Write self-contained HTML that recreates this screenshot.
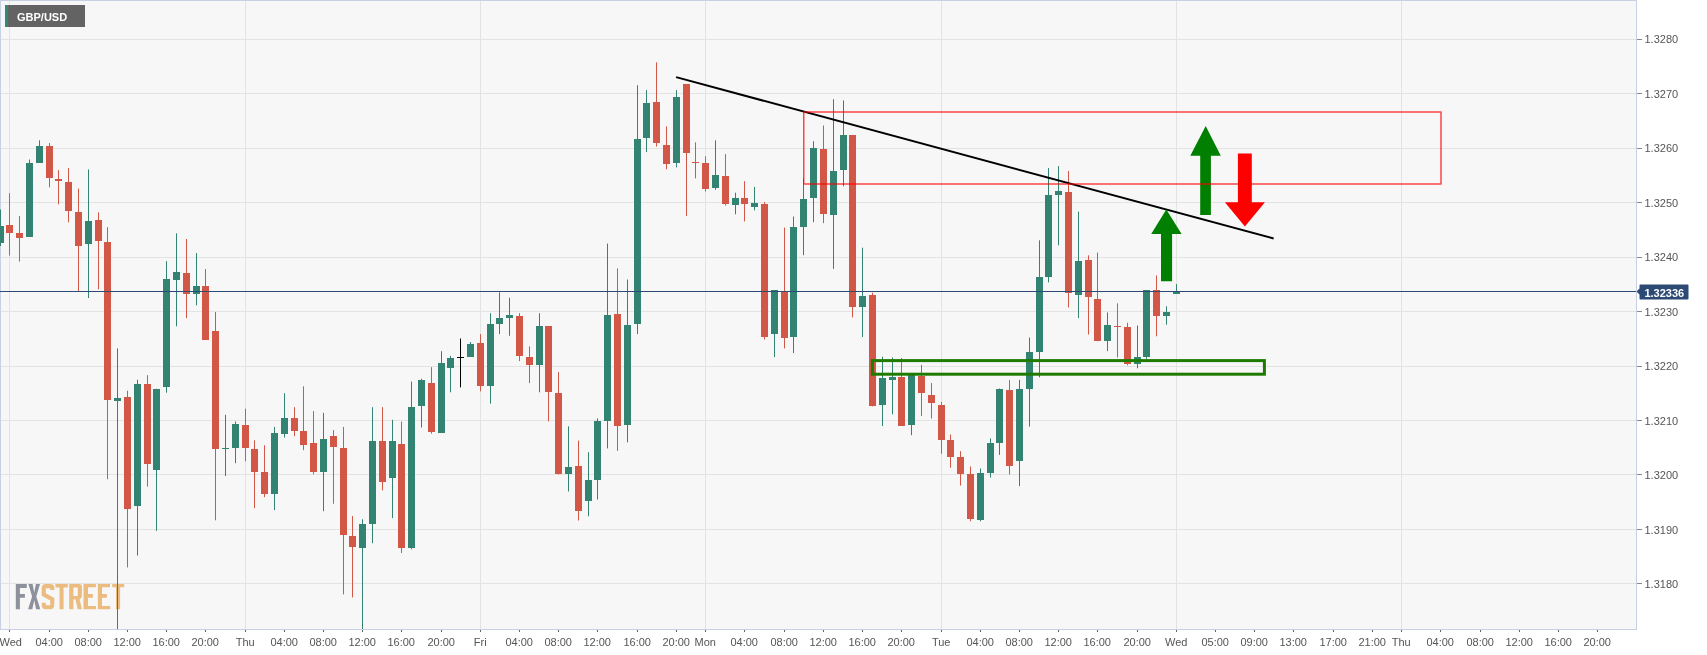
<!DOCTYPE html>
<html><head><meta charset="utf-8"><style>
html,body{margin:0;padding:0;background:#fff;width:1707px;height:655px;overflow:hidden}
svg{display:block;font-family:"Liberation Sans",sans-serif;will-change:transform}
</style></head><body>
<svg width="1707" height="655" viewBox="0 0 1707 655">
<rect x="0" y="0" width="1707" height="655" fill="#ffffff"/>
<rect x="0" y="0" width="1636" height="629" fill="#f7f7f7"/>

<path d="M0 583.5H1636 M0 529.5H1636 M0 474.5H1636 M0 420.5H1636 M0 366.5H1636 M0 311.5H1636 M0 257.5H1636 M0 202.5H1636 M0 148.5H1636 M0 93.5H1636 M0 39.5H1636 M9.5 0V629 M245.5 0V629 M480.5 0V629 M705.5 0V629 M941.5 0V629 M1176.5 0V629 M1401.5 0V629" stroke="#e3e3e3" stroke-width="1" fill="none" shape-rendering="crispEdges"/>
<g fill="#8d919b" shape-rendering="geometricPrecision">
<path d="M15.8 584H26.8V588H19.9V594H24.9V597.8H19.9V609.3H15.8Z"/>
<path d="M28.4 584H32.6L34.2 592.6L35.9 584H40L36.3 596.4L40.3 609.3H36.1L34.2 600.2L32.3 609.3H28.1L32.1 596.4Z"/>
</g>
<g fill="#ecbb80">
<path d="M52.3 590V588.3Q52.3 586.1 50.1 586.1H45.9Q43.75 586.1 43.75 588.3V594.6L52.25 599.3V605.1Q52.25 607.25 50.1 607.25H45.9Q43.75 607.25 43.75 605.1V602.8" fill="none" stroke="#ecbb80" stroke-width="4.1"/>
<path d="M55.4 584H67.8V587.5H63.6V609.3H59.5V587.5H55.4Z"/>
<path d="M69.2 584H79Q81.9 584 81.9 587V596Q81.9 598.6 79.6 599.2L81.9 609.3H77.8L75.4 599.3H73.4V609.3H69.2ZM73.4 587.6V595.9H77.8V587.6Z" fill-rule="evenodd"/>
<path d="M83.5 584H95.9V587.2H88V593.9H92.9V597.8H88V605.9H95.9V609.3H83.5Z"/>
<path d="M97.9 584H110V587.2H102V593.9H106.9V597.8H102V605.9H110.2V609.3H97.9Z"/>
<path d="M112.2 584H124.2V587.2H120.1V609.3H116V587.2H112.2Z"/>
</g>
<path d="M0.5 0V629.5M0 0.5H1636.5M0 629.5H1636.5M1636.5 0V629.5" stroke="#c8d0e4" stroke-width="1" fill="none" shape-rendering="crispEdges"/>
<path d="M0.5 209.5V246.0 M29.5 159.5V237.0 M39.5 140.3V162.7 M88.5 169.4V298.0 M117.5 348.4V629.0 M137.5 379.7V555.5 M156.5 388.8V530.9 M166.5 261.2V392.7 M176.5 233.3V326.3 M196.5 253.0V305.3 M225.5 414.8V476.0 M235.5 421.5V463.2 M274.5 427.0V510.0 M284.5 393.2V437.5 M323.5 412.9V511.2 M362.5 519.3V629.0 M372.5 407.2V543.2 M392.5 419.8V518.1 M411.5 381.6V549.3 M421.5 378.8V427.5 M441.5 351.2V432.9 M450.5 355.8V392.3 M470.5 342.0V356.8 M490.5 313.2V403.6 M499.5 292.3V334.1 M509.5 297.7V335.8 M539.5 313.2V392.3 M568.5 426.3V491.5 M588.5 452.2V516.3 M597.5 418.4V499.5 M607.5 243.6V448.4 M627.5 279.5V442.3 M637.5 85.2V334.1 M646.5 90.1V152.1 M676.5 90.1V167.4 M715.5 140.3V189.8 M735.5 192.7V214.3 M754.5 187.0V210.3 M774.5 290.3V357.0 M793.5 216.5V353.0 M803.5 178.4V255.2 M813.5 141.2V222.2 M833.5 99.2V268.9 M843.5 100.4V186.3 M862.5 247.7V337.0 M882.5 356.7V426.1 M892.5 357.5V414.3 M911.5 374.0V435.2 M980.5 468.4V521.3 M990.5 438.4V477.5 M999.5 388.5V454.9 M1019.5 379.8V486.1 M1029.5 337.5V426.6 M1039.5 240.3V377.3 M1048.5 168.1V282.4 M1058.5 166.1V245.3 M1078.5 211.6V318.1 M1107.5 312.4V351.1 M1137.5 325.5V368.3 M1146.5 290.3V358.7 M1166.5 306.3V324.7 M1176.5 284.1V293.5" stroke="#338372" stroke-width="1" fill="none"/>
<path d="M-3 226h7v17h-7z M26 163h7v74h-7z M36 146h7v17h-7z M85 221h7v23h-7z M114 398h7v3h-7z M134 384h7v122h-7z M153 389h7v81h-7z M163 279h7v108h-7z M173 272h7v8h-7z M193 286h7v8h-7z M222 448h7v1h-7z M232 424h7v24h-7z M271 433h7v61h-7z M281 418h7v16h-7z M320 439h7v33h-7z M359 524h7v24h-7z M369 441h7v83h-7z M389 441h7v37h-7z M408 407h7v141h-7z M418 380h7v26h-7z M438 363h7v70h-7z M447 358h7v10h-7z M467 344h7v13h-7z M487 324h7v62h-7z M496 318h7v6h-7z M506 315h7v3h-7z M536 326h7v39h-7z M565 467h7v7h-7z M585 480h7v21h-7z M594 421h7v59h-7z M604 315h7v106h-7z M624 325h7v100h-7z M634 139h7v185h-7z M643 103h7v35h-7z M673 97h7v66h-7z M712 175h7v13h-7z M732 198h7v7h-7z M751 203h7v4h-7z M771 290h7v44h-7z M790 227h7v110h-7z M800 199h7v28h-7z M810 148h7v50h-7z M830 171h7v44h-7z M840 135h7v35h-7z M859 296h7v11h-7z M879 378h7v27h-7z M889 377h7v3h-7z M908 374h7v51h-7z M977 473h7v47h-7z M987 443h7v30h-7z M996 389h7v54h-7z M1016 389h7v72h-7z M1026 352h7v37h-7z M1036 277h7v75h-7z M1045 195h7v82h-7z M1055 191h7v4h-7z M1075 261h7v34h-7z M1104 325h7v16h-7z M1134 357h7v7h-7z M1143 290h7v67h-7z M1163 312h7v4h-7z M1173 292h7v2h-7z" fill="#338372" shape-rendering="crispEdges"/>
<path d="M9.5 193.2V255.5 M19.5 216.0V261.6 M49.5 143.0V187.3 M58.5 170.1V204.3 M68.5 168.1V222.3 M78.5 188.6V291.8 M98.5 212.4V289.4 M107.5 227.2V479.2 M127.5 390.7V567.4 M147.5 375.2V486.6 M186.5 239.0V318.1 M205.5 269.0V339.5 M215.5 312.0V520.3 M245.5 408.7V461.3 M254.5 440.3V508.2 M264.5 445.3V497.2 M294.5 407.2V436.2 M303.5 386.3V450.2 M313.5 411.1V474.3 M333.5 430.1V503.8 M343.5 426.9V594.4 M352.5 516.1V597.4 M382.5 407.2V490.3 M401.5 421.5V553.0 M431.5 367.2V433.7 M480.5 334.1V391.3 M519.5 313.2V361.1 M529.5 346.4V383.2 M548.5 326.0V421.4 M558.5 372.1V474.4 M578.5 440.6V520.5 M617.5 268.4V450.9 M656.5 62.3V146.5 M666.5 126.3V169.3 M686.5 84.0V216.0 M695.5 142.3V178.4 M705.5 156.3V191.5 M725.5 154.1V205.5 M744.5 181.2V221.4 M764.5 202.1V339.5 M784.5 227.6V348.4 M823.5 125.5V223.2 M852.5 135.4V317.4 M872.5 292.7V406.4 M901.5 358.0V425.9 M921.5 364.8V416.0 M931.5 383.0V418.5 M941.5 402.0V453.7 M950.5 434.5V467.7 M960.5 451.2V485.6 M970.5 466.5V521.3 M1009.5 380.1V474.6 M1068.5 171.0V307.5 M1088.5 255.3V334.6 M1097.5 252.6V341.2 M1117.5 303.3V357.5 M1127.5 322.8V365.3 M1156.5 275.5V336.3" stroke="#d25746" stroke-width="1" fill="none"/>
<path d="M6 225h7v8h-7z M16 233h7v5h-7z M46 146h7v32h-7z M55 179h7v2h-7z M65 182h7v29h-7z M75 212h7v34h-7z M95 220h7v21h-7z M104 242h7v158h-7z M124 397h7v112h-7z M144 384h7v80h-7z M183 273h7v21h-7z M202 286h7v54h-7z M212 331h7v118h-7z M242 425h7v23h-7z M251 449h7v23h-7z M261 472h7v22h-7z M291 418h7v13h-7z M300 431h7v14h-7z M310 443h7v29h-7z M330 436h7v11h-7z M340 448h7v87h-7z M349 536h7v11h-7z M379 441h7v41h-7z M398 444h7v104h-7z M428 383h7v49h-7z M477 343h7v43h-7z M516 316h7v40h-7z M526 357h7v8h-7z M545 326h7v66h-7z M555 393h7v81h-7z M575 466h7v45h-7z M614 314h7v112h-7z M653 102h7v41h-7z M663 145h7v19h-7z M683 84h7v69h-7z M692 162h7v1h-7z M702 163h7v26h-7z M722 176h7v28h-7z M741 198h7v6h-7z M761 204h7v133h-7z M781 292h7v46h-7z M820 149h7v65h-7z M849 135h7v172h-7z M869 295h7v111h-7z M898 377h7v49h-7z M918 376h7v17h-7z M928 395h7v8h-7z M938 405h7v35h-7z M947 440h7v17h-7z M957 457h7v17h-7z M967 474h7v45h-7z M1006 390h7v76h-7z M1065 192h7v101h-7z M1085 260h7v37h-7z M1094 299h7v42h-7z M1114 326h7v1h-7z M1124 327h7v37h-7z M1153 290h7v26h-7z" fill="#d25746" shape-rendering="crispEdges"/>
<path d="M460.5 338.5V387.4" stroke="#000000" stroke-width="1" fill="none"/>
<path d="M457 357h7v1h-7z" fill="#000000" shape-rendering="crispEdges"/>
<path d="M0 291.5H1636" stroke="#2c4a74" stroke-width="1" shape-rendering="crispEdges"/>
<path d="M9.5 630V632 M49.5 630V632 M88.5 630V632 M127.5 630V632 M166.5 630V632 M205.5 630V632 M245.5 630V632 M284.5 630V632 M323.5 630V632 M362.5 630V632 M401.5 630V632 M441.5 630V632 M480.5 630V632 M519.5 630V632 M558.5 630V632 M597.5 630V632 M637.5 630V632 M676.5 630V632 M705.5 630V632 M744.5 630V632 M784.5 630V632 M823.5 630V632 M862.5 630V632 M901.5 630V632 M941.5 630V632 M980.5 630V632 M1019.5 630V632 M1058.5 630V632 M1097.5 630V632 M1137.5 630V632 M1176.5 630V632 M1215.5 630V632 M1254.5 630V632 M1293.5 630V632 M1333.5 630V632 M1372.5 630V632 M1401.5 630V632 M1440.5 630V632 M1480.5 630V632 M1519.5 630V632 M1558.5 630V632 M1597.5 630V632" stroke="#666" stroke-width="1" shape-rendering="crispEdges"/>
<g font-size="11" fill="#555555"><text x="-0.5" y="646">Wed</text><text x="49.2" y="646" text-anchor="middle">04:00</text><text x="88.2" y="646" text-anchor="middle">08:00</text><text x="127.2" y="646" text-anchor="middle">12:00</text><text x="166.2" y="646" text-anchor="middle">16:00</text><text x="205.2" y="646" text-anchor="middle">20:00</text><text x="245.2" y="646" text-anchor="middle">Thu</text><text x="284.2" y="646" text-anchor="middle">04:00</text><text x="323.2" y="646" text-anchor="middle">08:00</text><text x="362.2" y="646" text-anchor="middle">12:00</text><text x="401.2" y="646" text-anchor="middle">16:00</text><text x="441.2" y="646" text-anchor="middle">20:00</text><text x="480.2" y="646" text-anchor="middle">Fri</text><text x="519.2" y="646" text-anchor="middle">04:00</text><text x="558.2" y="646" text-anchor="middle">08:00</text><text x="597.2" y="646" text-anchor="middle">12:00</text><text x="637.2" y="646" text-anchor="middle">16:00</text><text x="676.2" y="646" text-anchor="middle">20:00</text><text x="705.2" y="646" text-anchor="middle">Mon</text><text x="744.2" y="646" text-anchor="middle">04:00</text><text x="784.2" y="646" text-anchor="middle">08:00</text><text x="823.2" y="646" text-anchor="middle">12:00</text><text x="862.2" y="646" text-anchor="middle">16:00</text><text x="901.2" y="646" text-anchor="middle">20:00</text><text x="941.2" y="646" text-anchor="middle">Tue</text><text x="980.2" y="646" text-anchor="middle">04:00</text><text x="1019.2" y="646" text-anchor="middle">08:00</text><text x="1058.2" y="646" text-anchor="middle">12:00</text><text x="1097.2" y="646" text-anchor="middle">16:00</text><text x="1137.2" y="646" text-anchor="middle">20:00</text><text x="1176.2" y="646" text-anchor="middle">Wed</text><text x="1215.2" y="646" text-anchor="middle">05:00</text><text x="1254.2" y="646" text-anchor="middle">09:00</text><text x="1293.2" y="646" text-anchor="middle">13:00</text><text x="1333.2" y="646" text-anchor="middle">17:00</text><text x="1372.2" y="646" text-anchor="middle">21:00</text><text x="1401.2" y="646" text-anchor="middle">Thu</text><text x="1440.2" y="646" text-anchor="middle">04:00</text><text x="1480.2" y="646" text-anchor="middle">08:00</text><text x="1519.2" y="646" text-anchor="middle">12:00</text><text x="1558.2" y="646" text-anchor="middle">16:00</text><text x="1597.2" y="646" text-anchor="middle">20:00</text></g>
<path d="M1637 583.5H1642 M1637 529.5H1642 M1637 474.5H1642 M1637 420.5H1642 M1637 366.5H1642 M1637 311.5H1642 M1637 257.5H1642 M1637 202.5H1642 M1637 148.5H1642 M1637 93.5H1642 M1637 39.5H1642" stroke="#888" stroke-width="1" shape-rendering="crispEdges"/>
<g font-size="11" fill="#555555"><text x="1644.5" y="588.00">1.3180</text><text x="1644.5" y="533.50">1.3190</text><text x="1644.5" y="479.01">1.3200</text><text x="1644.5" y="424.51">1.3210</text><text x="1644.5" y="370.02">1.3220</text><text x="1644.5" y="315.52">1.3230</text><text x="1644.5" y="261.03">1.3240</text><text x="1644.5" y="206.53">1.3250</text><text x="1644.5" y="152.04">1.3260</text><text x="1644.5" y="97.55">1.3270</text><text x="1644.5" y="43.05">1.3280</text></g>
<path d="M1636.5 291.5L1639.5 288.5V285.5Q1639.5 284.5 1640.5 284.5H1687.5Q1688.5 284.5 1688.5 285.5V298.5Q1688.5 299.5 1687.5 299.5H1640.5Q1639.5 299.5 1639.5 298.5V294.5Z" fill="#2c4a74"/>
<text x="1644.4" y="297" font-size="11" font-weight="bold" fill="#fff">1.32336</text>
<line x1="676.1" y1="77.1" x2="1273.6" y2="238.5" stroke="#000" stroke-width="2"/>
<rect x="872.4" y="360.6" width="392" height="13.6" fill="none" stroke="#1f7a00" stroke-width="3"/>
<path d="M1205.7 126L1220.8 155.8H1210.9V215H1200.2V155.8H1190.3Z" fill="#007f00"/>
<path d="M1166.3 209.5L1181.6 233.9H1172.1V281.2H1161V233.9H1151.2Z" fill="#007f00"/>
<path d="M1244.9 226.6L1264.9 202.3H1251.8V153.5H1237.9V202.3H1224.9Z" fill="#ff0000"/>
<rect x="803.75" y="112" width="637.25" height="72" fill="none" stroke="rgba(255,0,0,0.72)" stroke-width="1.5" stroke-linejoin="round"/>
<rect x="5" y="5" width="80" height="22" fill="#636363"/>
<rect x="5" y="5" width="3" height="22" fill="#2f8a73"/>
<text x="17" y="21" font-size="11" font-weight="bold" fill="#fff">GBP/USD</text>
</svg></body></html>
